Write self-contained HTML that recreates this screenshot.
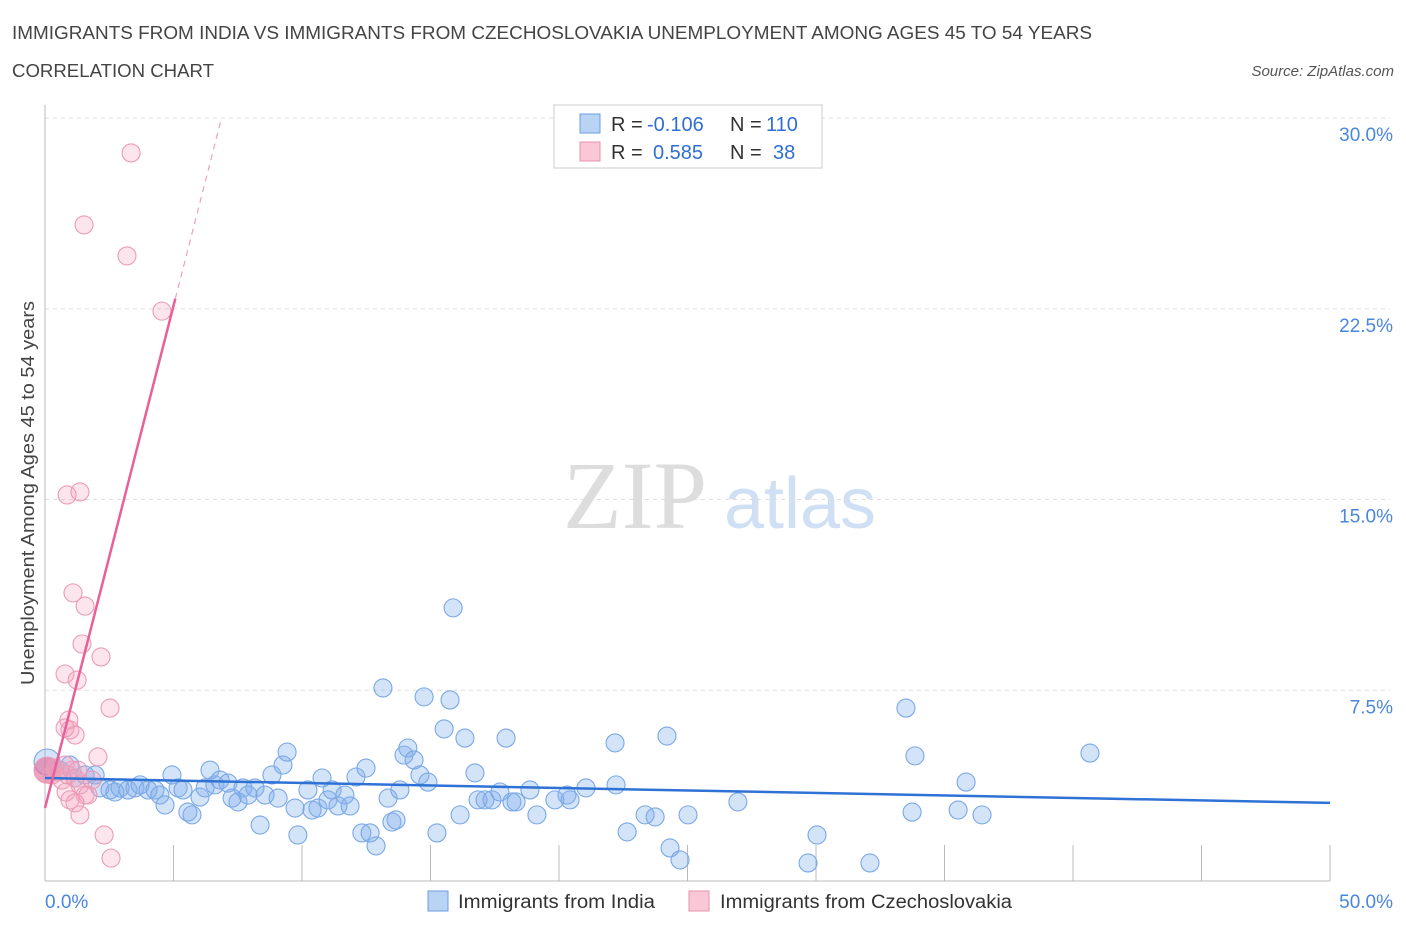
<!DOCTYPE html>
<html><head><meta charset="utf-8"><style>
body{margin:0;background:#fff;font-family:"Liberation Sans",sans-serif}
#c{position:relative;width:1406px;height:930px}
</style></head><body>
<div id="c">
<svg id="s" width="1406" height="930" xmlns="http://www.w3.org/2000/svg">
<text x="12" y="39" font-size="18" fill="#444" textLength="1080" lengthAdjust="spacingAndGlyphs">IMMIGRANTS FROM INDIA VS IMMIGRANTS FROM CZECHOSLOVAKIA UNEMPLOYMENT AMONG AGES 45 TO 54 YEARS</text>
<text x="12" y="77" font-size="18" fill="#444" textLength="202" lengthAdjust="spacingAndGlyphs">CORRELATION CHART</text>
<text x="1394" y="76" font-size="15" fill="#555" font-style="italic" text-anchor="end">Source: ZipAtlas.com</text>
<g><text x="635" y="528" font-size="96" font-family="Liberation Serif,serif" fill="#ddd" text-anchor="middle">ZIP</text><text x="800" y="528" font-size="72" fill="#cfe0f4" text-anchor="middle">atlas</text></g>
<g id="grid"></g><g id="ticks"></g><g id="pts"></g><g id="lines"></g>
<text transform="translate(34,493) rotate(-90)" font-size="18" fill="#444" text-anchor="middle" textLength="384" lengthAdjust="spacingAndGlyphs">Unemployment Among Ages 45 to 54 years</text>
<g>
<rect x="554" y="105" width="268" height="63" fill="#fff" stroke="#ccc"/>
<rect x="580" y="114" width="20" height="19" fill="#b9d3f5" stroke="#6a9ee0"/>
<rect x="580" y="142" width="20" height="19" fill="#f9c7d6" stroke="#e890ab"/>
<text y="131" font-size="20" fill="#333"><tspan x="611">R =</tspan><tspan x="647" fill="#2f6fd0">-0.106</tspan><tspan x="730">N =</tspan><tspan x="766" fill="#2f6fd0">110</tspan></text>
<text y="159" font-size="20" fill="#333"><tspan x="611">R =</tspan><tspan x="653" fill="#2f6fd0">0.585</tspan><tspan x="730">N =</tspan><tspan x="773" fill="#2f6fd0">38</tspan></text>
</g>
<g>
<rect x="428" y="891" width="20" height="20" fill="#b9d3f5" stroke="#6a9ee0"/>
<text x="458" y="908" font-size="19" fill="#333" textLength="197" lengthAdjust="spacingAndGlyphs">Immigrants from India</text>
<rect x="689" y="891" width="20" height="20" fill="#f9c7d6" stroke="#e890ab"/>
<text x="720" y="908" font-size="19" fill="#333" textLength="292" lengthAdjust="spacingAndGlyphs">Immigrants from Czechoslovakia</text>
</g>
</svg></div>
<script>
const yTicks=[7.5,15,22.5,30];
const yTickLabels=["7.5%","15.0%","22.5%","30.0%"];
const xTickLabels=["0.0%","50.0%"];
const indiaX=[0.08,0.58,0.97,1.17,1.56,1.95,2.14,2.53,2.72,2.92,3.23,3.5,3.7,4.01,4.28,4.47,4.67,4.94,5.18,5.37,5.56,5.72,6.03,6.23,6.42,6.61,6.81,7.12,7.28,7.51,7.7,7.9,8.17,8.37,8.56,8.83,9.07,9.26,9.42,9.73,9.84,10.23,10.39,10.62,10.78,11.01,11.17,11.4,11.67,11.87,12.1,12.33,12.49,12.65,12.88,13.15,13.35,13.5,13.66,13.81,13.97,14.12,14.36,14.59,14.75,14.9,15.25,15.53,15.76,15.88,16.15,16.34,16.73,16.85,17.12,17.39,17.7,17.94,18.17,18.33,18.87,19.14,19.84,20.31,20.43,21.05,22.18,22.22,22.65,23.35,23.74,24.2,24.32,24.71,25.02,26.96,29.69,30.04,32.1,33.5,33.74,33.85,35.53,35.84,36.46,40.66];
const indiaY=[4.68,4.36,4.56,4.05,4.17,4.17,3.66,3.58,3.5,3.66,3.58,3.66,3.78,3.58,3.58,3.38,2.99,4.17,3.66,3.58,2.71,2.6,3.3,3.66,4.36,3.78,3.97,3.85,3.26,3.11,3.66,3.38,3.66,2.2,3.38,4.17,3.26,4.56,5.07,2.87,1.81,3.58,2.79,2.87,4.05,3.19,3.58,2.95,3.38,2.95,4.09,1.89,4.44,1.89,1.38,7.59,3.26,2.32,2.4,3.58,4.95,5.23,4.76,4.17,7.24,3.89,1.89,5.98,7.12,10.74,2.6,5.62,4.25,3.19,3.19,3.19,3.5,5.62,3.11,3.11,3.58,2.6,3.19,3.38,3.19,3.66,5.43,3.78,1.93,2.6,2.52,5.7,1.3,0.83,2.6,3.11,0.71,1.81,0.71,6.8,2.71,4.92,2.79,3.89,2.6,5.03];
const czX=[0.08,0.27,0.39,0.51,0.66,0.78,0.89,1.05,1.17,1.28,1.36,1.56,1.67,1.83,0.82,0.97,1.17,1.36,2.3,2.57,2.53,2.18,0.93,0.97,0.78,1.25,1.44,1.56,1.09,0.86,1.36,2.06,1.17,0.78,4.55,3.19,1.52,3.35];
const czY=[4.36,4.17,4.44,4.29,3.97,4.56,4.17,4.36,4.05,4.36,3.78,3.38,3.38,3.97,3.5,3.19,3.07,2.6,1.81,0.9,6.8,8.81,6.33,5.94,8.14,7.9,9.32,10.81,11.33,15.18,15.3,4.88,5.74,6.02,22.41,24.58,25.8,28.63];
const indiaTrend=[4.05,3.07];
const czTrend=[2.87,3.95];
const NS="http://www.w3.org/2000/svg";
const X=v=>45+v*25.7, Y=v=>881-v*25.43;
function mk(t,a,p){const e=document.createElementNS(NS,t);for(const k in a)e.setAttribute(k,a[k]);p.appendChild(e);return e;}
const grid=document.getElementById('grid'),ticks=document.getElementById('ticks'),pts=document.getElementById('pts'),lines=document.getElementById('lines');
yTicks.forEach((t,i)=>{
 const l=mk('line',{x1:45,x2:1390,y1:Y(t),y2:Y(t),stroke:'#ddd','stroke-dasharray':'4,4'},grid);
 
 
 const tx=mk('text',{x:1393,y:Y(t)+23,'font-size':19,fill:'#4a86de','text-anchor':'end'},ticks);
 tx.textContent=yTickLabels[i];
 
 
});
const ax=mk('line',{x1:45,x2:1330,y1:881,y2:881,stroke:'#bbb'},ticks);


const ay=mk('line',{x1:45,x2:45,y1:105,y2:881,stroke:'#bbb'},ticks);


for(let i=1;i<=10;i++){const tk=mk('line',{x1:X(i*5),x2:X(i*5),y1:845,y2:881,stroke:'#bbb'},ticks);
 
 }
[[0,45,'start'],[50,1393,'end']].forEach((d,i)=>{const t=mk('text',{x:d[1],y:908,'font-size':19,fill:'#4a86de','text-anchor':d[2]},ticks);t.textContent=xTickLabels[i];
 
 });
indiaX.forEach((x,i)=>{const c=mk('circle',{cx:X(x),cy:Y(indiaY[i]),r:i==0?13:9,fill:'rgba(130,175,235,0.35)',stroke:'#7aa8e6','stroke-width':1.1},pts);
 
 });
czX.forEach((x,i)=>{const c=mk('circle',{cx:X(x),cy:Y(czY[i]),r:i==0?13:9,fill:i==0?'rgba(230,100,150,0.6)':'rgba(245,160,190,0.28)',stroke:'#eb9bb5','stroke-width':1.1},pts);
 
 });
const bl=mk('line',{x1:X(0),y1:Y(indiaTrend[0]),x2:X(50),y2:Y(indiaTrend[1]),stroke:'#2f72d6','stroke-width':2.5},lines);


const xe=(22.9-czTrend[0])/czTrend[1], xd=(30-czTrend[0])/czTrend[1];
const pl=mk('line',{x1:X(0),y1:Y(czTrend[0]),x2:X(xe),y2:Y(czTrend[0]+czTrend[1]*xe),stroke:'#e8609a','stroke-width':2.5},lines);


const pd=mk('line',{x1:X(xe),y1:Y(czTrend[0]+czTrend[1]*xe),x2:X(xd),y2:Y(30),stroke:'#eea0bd','stroke-width':1.2,'stroke-dasharray':'6,5'},lines);


</script>
</body></html>
